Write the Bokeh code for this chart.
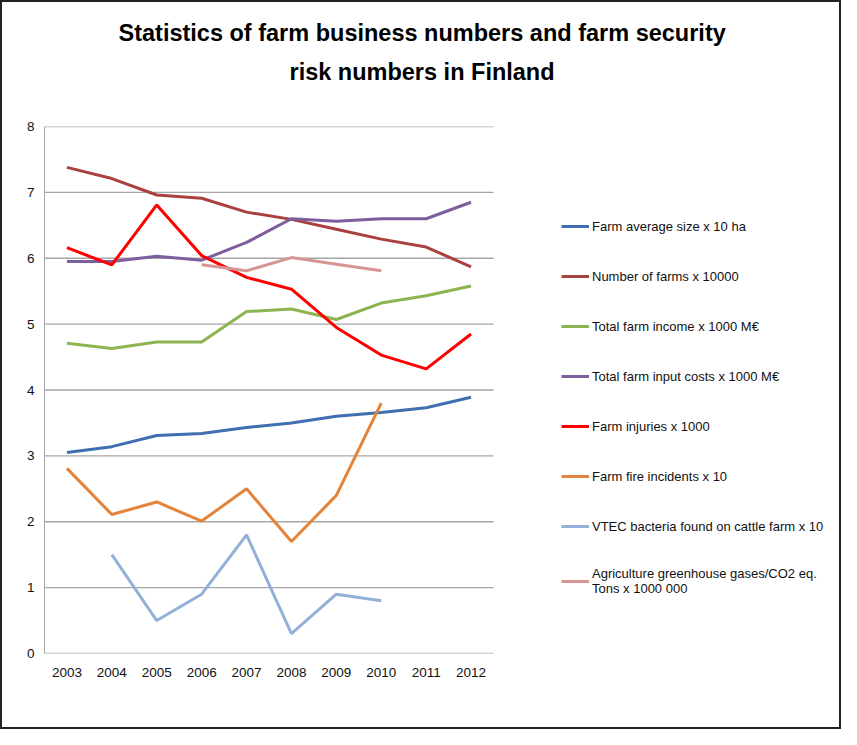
from bokeh.plotting import figure
from bokeh.models import Legend, LegendItem, Title, Range1d, FixedTicker
from bokeh.embed import file_html
from bokeh.resources import INLINE

years = ["2003", "2004", "2005", "2006", "2007", "2008", "2009", "2010", "2011", "2012"]

farm_size = [3.05, 3.14, 3.31, 3.34, 3.43, 3.50, 3.60, 3.66, 3.73, 3.89]
num_farms = [7.38, 7.21, 6.96, 6.91, 6.70, 6.59, 6.44, 6.29, 6.17, 5.87]
farm_income = [4.71, 4.63, 4.73, 4.73, 5.19, 5.23, 5.07, 5.32, 5.43, 5.58]
input_costs = [5.95, 5.95, 6.03, 5.97, 6.24, 6.60, 6.56, 6.60, 6.60, 6.85]
injuries = [6.16, 5.90, 6.81, 6.04, 5.71, 5.53, 4.95, 4.53, 4.32, 4.85]
fire_years = ["2003", "2004", "2005", "2006", "2007", "2008", "2009", "2010"]
fire = [2.81, 2.11, 2.30, 2.01, 2.50, 1.70, 2.40, 3.80]
vtec_years = ["2004", "2005", "2006", "2007", "2008", "2009", "2010"]
vtec = [1.50, 0.50, 0.90, 1.80, 0.30, 0.90, 0.80]
ghg_years = ["2006", "2007", "2008", "2009", "2010"]
ghg = [5.90, 5.81, 6.01, 5.91, 5.81]
y_ticks = [0, 1, 2, 3, 4, 5, 6, 7, 8]

labels = [
    "Farm average size x 10 ha",
    "Number of farms x 10000",
    "Total farm income x 1000 M\u20ac",
    "Total farm input costs x 1000 M\u20ac",
    "Farm injuries x 1000",
    "Farm fire incidents x 10",
    "VTEC bacteria found on cattle farm x 10",
    "Agriculture greenhouse gases/CO2 eq.\nTons x 1000 000",
]
colors = ["#3F6FB0", "#A9413E", "#8DB450", "#7D5FA0", "#FF0000", "#E3843A", "#93B1D8", "#D69593"]
title_lines = ["Statistics of farm business numbers and farm security", "risk numbers in Finland"]

FONT = "Liberation Sans"

n = len(years)
idx = {y: i for i, y in enumerate(years)}
cat_lo, cat_hi = -0.5, n - 0.5
# the plotting area continues to the right to hold the legend (categories occupy 449 px of 797)
x_end = cat_lo + (cat_hi - cat_lo) * 797 / 449

p = figure(width=841, height=729, x_range=Range1d(cat_lo, x_end), y_range=Range1d(0, 8),
           output_backend="svg", toolbar_location=None,
           min_border_left=42, min_border_right=2, min_border_top=124, min_border_bottom=78)
p.title.text = ""
p.title.visible = False
p.outline_line_color = None
p.styles = {"border": "2px solid #222", "box-sizing": "border-box"}

p.xgrid.grid_line_color = None
p.ygrid.grid_line_color = None
p.yaxis.ticker = FixedTicker(ticks=y_ticks)
p.xaxis.ticker = FixedTicker(ticks=list(range(n)))
p.xaxis.major_label_overrides = {i: y for i, y in enumerate(years)}
for ax in (p.xaxis, p.yaxis):
    ax.major_tick_line_color = None
    ax.minor_tick_line_color = None
    ax.major_tick_out = 0
    ax.minor_tick_out = 0
    ax.major_label_text_font = FONT
    ax.major_label_text_font_size = "13.5px"
    ax.major_label_text_color = "#111111"
p.yaxis.axis_line_color = "#A6A6A6"
p.xaxis.axis_line_color = None
p.yaxis.major_label_standoff = 10
p.xaxis.major_label_standoff = 14

# horizontal gridlines over the category span only
p.segment(x0=[cat_lo] * len(y_ticks), x1=[cat_hi] * len(y_ticks), y0=y_ticks, y1=y_ticks,
          line_color="#A6A6A6", line_width=1.3)

series = [
    (years, farm_size), (years, num_farms), (years, farm_income), (years, input_costs),
    (years, injuries), (fire_years, fire), (vtec_years, vtec), (ghg_years, ghg),
]
renderers = []
for (xs, ys), c in zip(series, colors):
    r = p.line(x=[idx[x] for x in xs], y=ys, line_color=c, line_width=3)
    renderers.append(r)

legend = Legend(items=[LegendItem(label=l, renderers=[r]) for l, r in zip(labels, renderers)],
                location=(517, 57), orientation="vertical")
legend.label_text_font = FONT
legend.label_text_font_size = "13px"
legend.label_text_color = "#111111"
legend.glyph_width = 28
legend.glyph_height = 20
legend.label_height = 20
legend.label_standoff = 3
legend.spacing = 30
legend.padding = 0
legend.margin = 0
legend.border_line_color = None
legend.background_fill_alpha = 0
p.add_layout(legend)

# titles: nearest to frame first
p.add_layout(Title(text=" ", text_font_size="10px", standoff=20), "above")
p.add_layout(Title(text=title_lines[1], text_font=FONT, text_font_style="bold", text_color="#000000",
                   text_font_size="23.5px", align="left", offset=245, standoff=17), "above")
p.add_layout(Title(text=title_lines[0], text_font=FONT, text_font_style="bold", text_color="#000000",
                   text_font_size="23.5px", align="left", offset=74, standoff=5), "above")

open("out.html", "w").write(file_html(p, INLINE))
